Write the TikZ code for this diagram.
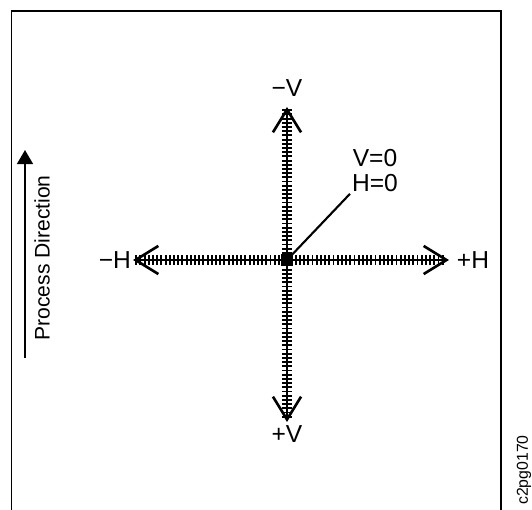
\documentclass[tikz,border=0pt]{standalone}
\usepackage{fontspec}
\setmainfont{Liberation Sans}
\usetikzlibrary{arrows.meta,decorations.markings,positioning}
\tikzset{
  axis/.style={line width=1.5pt,
    {Straight Barb[length=13pt,width=16pt]}-{Straight Barb[length=13pt,width=16pt]},
    decoration={markings,
      mark=between positions 0.01 and 0.99 step 0.084cm with
        {\draw[-,line width=1.1pt] (0,-0.1cm) -- (0,0.1cm);}},
    postaction={decorate}},
  lbl/.style={font=\fontsize{14}{17}\selectfont, inner sep=1pt}
}

\begin{document}
\begin{tikzpicture}[x=0.02cm,y=-0.02cm,>=Latex]
      \useasboundingbox (0,0) rectangle (532,510);
      \draw[line width=1.1pt] (11.5,510) -- (11.5,11) -- (501,11) -- (501,510);
      % axes
      \coordinate (o) at (287,260);
      \coordinate (vt) at (287,107);
      \coordinate (vb) at (287,422);
      \coordinate (hl) at (133,260);
      \coordinate (hr) at (449,260);
      \draw[axis] (hl) -- (hr);
      \draw[axis] (vt) -- (vb);
      \fill (o) +(-6,-6) rectangle +(6,6);
      \node[lbl] (mV) at (287,88) {−V};
      \node[lbl] (pV) at (287,434) {+V};
      \node[lbl,left=0pt of hl] (mH) {−H};
      \node[lbl] (pH) at (473,260) {+H};
      \node[lbl] (vz) at (375,158) {V=0};
      \node[lbl] (hz) at (375,183) {H=0};
      \draw[line width=1.2pt] (o) -- (hz.south west);
      % process direction
      \coordinate (pa) at (25,358);
      \coordinate (pb) at (25,150);
      \draw[line width=1.2pt,-{Triangle[length=8pt,width=9pt]}] (pa) -- (pb);
      \node[rotate=90,font=\fontsize{12}{14}\selectfont] (pd) at (42,258) {Process Direction};
      \node[rotate=90,font=\fontsize{9}{10}\selectfont] (fig) at (524,470) {c2pg0170};
    \end{tikzpicture}
\end{document}
